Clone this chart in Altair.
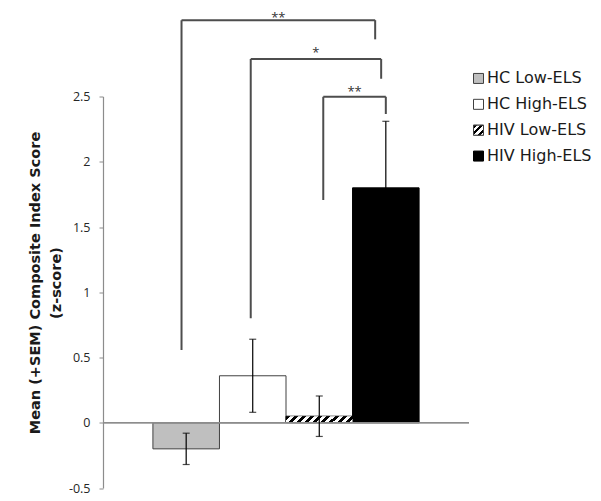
import altair as alt
import pandas as pd

# ---- data ----
groups = ["HC Low-ELS", "HC High-ELS", "HIV Low-ELS", "HIV High-ELS"]
positions = [1, 2, 3, 4]
means = [-0.20, 0.36, 0.05, 1.80]
sems = [0.12, 0.28, 0.155, 0.51]

# significance brackets
br_left = [0.93, 1.97, 3.06]
br_right = [3.84, 3.93, 4.00]
br_top = [3.085, 2.787, 2.498]
br_left_bottom = [0.557, 0.80, 1.707]
br_right_bottom = [2.938, 2.636, 2.366]
br_label = ["**", "*", "**"]
br_label_y = [3.068, 2.800, 2.505]

y_ticks = [-0.5, 0, 0.5, 1, 1.5, 2, 2.5]

# ---- styles ----
fills = ["#bfbfbf", "#ffffff", "#ffffff", "#000000"]
strokes = ["#404040", "#404040", "#000000", "#000000"]


def stripes(n, vx, vy):
    stops = []
    for i in range(n):
        a = i / n
        b = (i + 0.5) / n
        c = (i + 1) / n
        stops += [
            alt.GradientStop(color="#000000", offset=a),
            alt.GradientStop(color="#000000", offset=b),
            alt.GradientStop(color="#ffffff", offset=b),
            alt.GradientStop(color="#ffffff", offset=c),
        ]
    return alt.LinearGradient(gradient="linear", stops=stops, x1=0, y1=0, x2=vx, y2=vy)


bar_hatch = stripes(9, 1.09, 0.11)
legend_hatch = stripes(3, 1.0, 1.0)

df = pd.DataFrame({"group": groups, "pos": positions, "mean": means, "sem": sems})
br = pd.DataFrame({
    "x1": br_left, "x2": br_right, "top": br_top,
    "lb": br_left_bottom, "rb": br_right_bottom,
    "label": br_label, "ly": br_label_y,
})

xscale = alt.Scale(domain=[-0.25, 5.25], nice=False, zero=False)
yscale = alt.Scale(domain=[-0.5, 2.5], nice=False, zero=False)

base = alt.Chart(df).transform_calculate(
    x0="datum.pos - 0.5", x1="datum.pos + 0.5",
    lo="datum.mean - datum.sem", hi="datum.mean + datum.sem",
)

yaxis = alt.Axis(
    values=y_ticks, labelExpr="'' + datum.value", grid=False,
    domainColor="#8c8c8c", domainWidth=1.2, tickColor="#8c8c8c", tickSize=4,
    labelFont="Open Sans", labelFontSize=12.5, labelColor="#262626", labelPadding=9,
    title=["Mean (+SEM) Composite Index Score", "(z-score)"],
    titleFont="DejaVu Sans", titleFontSize=14.5, titleFontWeight="bold",
    titleColor="#1a1a1a", titlePadding=5, titleLineHeight=21, titleY=186,
)

bars = base.mark_rect(strokeWidth=1).encode(
    x=alt.X("x0:Q", scale=xscale, axis=None),
    x2="x1:Q",
    y=alt.Y("mean:Q", scale=yscale, axis=yaxis),
    y2=alt.datum(0),
    fill=alt.Fill("group:N", scale=alt.Scale(domain=groups, range=fills), legend=None),
    stroke=alt.Stroke("group:N", scale=alt.Scale(domain=groups, range=strokes), legend=None),
)

hatch = base.transform_filter(alt.datum.group == "HIV Low-ELS").mark_rect(
    fill=bar_hatch, strokeWidth=0
).encode(x="x0:Q", x2="x1:Q", y="mean:Q", y2=alt.datum(0))

zero_line = alt.Chart(df).mark_rule(color="#8c8c8c", strokeWidth=1.2).encode(
    y=alt.datum(0)
)

ecol = "#000000"
err = base.mark_rule(color=ecol, strokeWidth=1.2).encode(
    x="pos:Q", y="lo:Q", y2="hi:Q"
)
cap_lo = base.mark_tick(orient="horizontal", size=7, thickness=1.2, color=ecol).encode(
    x="pos:Q", y="lo:Q"
)
cap_hi = base.mark_tick(orient="horizontal", size=7, thickness=1.2, color=ecol).encode(
    x="pos:Q", y="hi:Q"
)

bcol = "#4d4d4d"
bw = 2
bchart = alt.Chart(br)
b_h = bchart.mark_rule(color=bcol, strokeWidth=bw).encode(x="x1:Q", x2="x2:Q", y="top:Q")
b_l = bchart.mark_rule(color=bcol, strokeWidth=bw).encode(x="x1:Q", y="lb:Q", y2="top:Q")
b_r = bchart.mark_rule(color=bcol, strokeWidth=bw).encode(x="x2:Q", y="rb:Q", y2="top:Q")
b_t = bchart.transform_calculate(mid="(datum.x1 + datum.x2) / 2").mark_text(
    font="Open Sans", fontSize=13, color="#333333", baseline="alphabetic", align="center"
).encode(x="mid:Q", y="ly:Q", text="label:N")

main = alt.layer(bars, hatch, zero_line, err, cap_lo, cap_hi, b_h, b_l, b_r, b_t)

# ---- legend (manual, to allow the hatched swatch) ----
leg_y = alt.Y("group:N", scale=alt.Scale(domain=groups, range=[-31, 72.5]), axis=None)
leg = alt.Chart(df)
leg_sq = leg.mark_square(size=100, strokeWidth=1, opacity=1).encode(
    x=alt.value(375.5),
    y=leg_y,
    fill=alt.Fill("group:N", scale=alt.Scale(domain=groups, range=fills), legend=None),
    stroke=alt.Stroke("group:N", scale=alt.Scale(domain=groups, range=["#404040", "#404040", "#404040", "#000000"]), legend=None),
)
leg_hatch = leg.transform_filter(alt.datum.group == "HIV Low-ELS").mark_square(
    size=100, fill=legend_hatch, stroke="#404040", strokeWidth=1, opacity=1
).encode(x=alt.value(375.5), y=leg_y)
leg_txt = leg.mark_text(
    font="DejaVu Sans", fontSize=16, color="#1a1a1a", align="left", baseline="middle"
).encode(x=alt.value(384), y=leg_y, text="group:N")

legend = alt.layer(leg_sq, leg_hatch, leg_txt)

chart = alt.layer(main, legend).resolve_scale(
    y="independent", fill="independent", stroke="independent"
).properties(
    width=366, height=391.5,
    padding={"left": 95, "top": 88.5, "right": 124, "bottom": 10},
    autosize=alt.AutoSizeParams(type="none"),
    background="white",
).configure_view(strokeWidth=0)

chart.save("out.html", embed_options={"renderer": "svg", "actions": False})
